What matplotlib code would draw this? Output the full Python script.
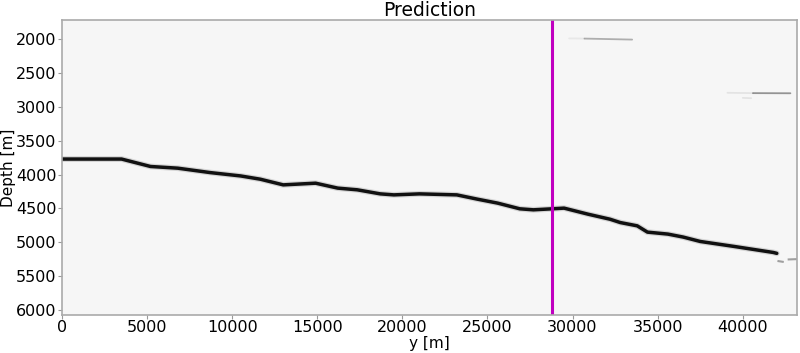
# Prediction section: picked horizon with well position marker
import numpy as np
import matplotlib.pyplot as plt

# horizon depth picks
hor_y = [0, 3500, 5200, 6800, 8700, 10500, 11650, 13000, 14900, 16200, 17350, 18700,
         19500, 21000, 23200, 24400, 25600, 26900, 27700, 28800, 29500, 30900,
         32200, 32800, 33800, 34400, 35600, 36500, 37500, 39500, 41800, 42000]
hor_z = [3770, 3770, 3880, 3905, 3970, 4020, 4068, 4152, 4127, 4200, 4225, 4285,
         4300, 4285, 4300, 4363, 4422, 4506, 4521, 4506, 4496, 4585,
         4660, 4709, 4758, 4851, 4880, 4924, 4989, 5063, 5152, 5165]

# small detached segments at the right end
tail_y = [[42100, 42350], [42700, 43200]]
tail_z = [[5280, 5290], [5255, 5250]]

# faint streaks elsewhere in the prediction
streak_y = [[29800, 30700], [30700, 33500], [39100, 40600], [40600, 42800], [40000, 40500]]
streak_z = [[1985, 1988], [1988, 2003], [2790, 2795], [2795, 2797], [2865, 2870]]
streak_a = [0.08, 0.4, 0.1, 0.55, 0.1]

well_y = 28800
xmax = 43200
zmin, zmax = 1715, 6075

fig = plt.figure(figsize=(8, 3.53), dpi=100)
ax = fig.add_axes([0.0775, 0.108, 0.919, 0.835])
ax.set_facecolor('#f6f6f6')

for ys, zs, a in zip(streak_y, streak_z, streak_a):
    ax.plot(ys, zs, color='#444444', lw=1.3, alpha=a, solid_capstyle='round')

ax.plot(hor_y, hor_z, color='#888888', lw=4.2, alpha=0.3, solid_capstyle='round')
ax.plot(hor_y, hor_z, color='#111111', lw=2.5, solid_capstyle='round')
for ys, zs in zip(tail_y, tail_z):
    ax.plot(ys, zs, color='#666666', lw=1.5, alpha=0.6)

ax.axvline(well_y, color='#c000c0', lw=2.2)

ax.set_xlim(0, xmax)
ax.set_ylim(zmax, zmin)
ax.set_xticks(np.arange(0, 45000, 5000))
ax.set_yticks(np.arange(2000, 6500, 500))
ax.tick_params(labelsize=11.5, length=3, color='#999999', pad=1)
for s in ax.spines.values():
    s.set_color('#aaaaaa')
    s.set_linewidth(1.2)

ax.set_title('Prediction', fontsize=13.5, pad=3)
ax.set_xlabel('y [m]', fontsize=11)
ax.set_ylabel('Depth [m]', fontsize=11)
ax.xaxis.set_label_coords(0.5, -0.072)
ax.yaxis.set_label_coords(-0.062, 0.5)

fig.savefig('out.png', dpi=100)
